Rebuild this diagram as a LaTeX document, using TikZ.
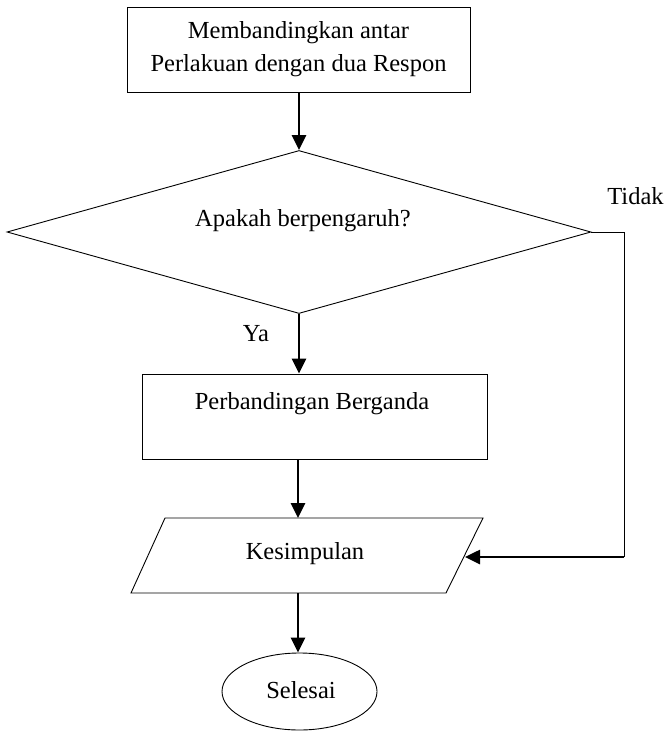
\documentclass[tikz,border=0pt]{standalone}
\usepackage{fontspec}
\setmainfont{Liberation Serif}
\usetikzlibrary{shapes.geometric,arrows.meta}
\begin{document}
\begin{tikzpicture}[x=1pt,y=-1pt,
  font=\fontsize{24.5}{33}\selectfont,
  thin line/.style={line width=0.9pt},
  boxnode/.style={draw,thin line,rectangle,inner sep=0pt,align=center},
  flow/.style={line width=2.6pt,-{Triangle[length=15pt,width=14pt]}},
  txt/.style={inner sep=0pt,align=center}]
\useasboundingbox (0,0) rectangle (670,731);
\node[boxnode,minimum width=343pt,minimum height=85pt] (top) at (298.5,49.5) {Membandingkan antar\\Perlakuan dengan dua Respon};
\node[draw,thin line,diamond,inner sep=0pt,minimum width=584pt,minimum height=163pt] (dec) at (299,232) {};
\node[txt] (dectext) at (303,221) {Apakah berpengaruh?};
\node[boxnode,minimum width=345pt,minimum height=85pt] (box2) at (314.5,416.5) {};
\node[txt] (box2text) at (312,404) {Perbandingan Berganda};
\coordinate (p1) at (165,518);
\coordinate (p2) at (483,518);
\coordinate (p3) at (446,593);
\coordinate (p4) at (131,593);
\draw[thin line] (p1) -- (p2) -- (p3) -- (p4) -- cycle;
\node[txt] (kes) at (305,554) {Kesimpulan};
\node[draw,thin line,ellipse,inner sep=0pt,minimum width=155pt,minimum height=77pt] (end) at (299.5,691.5) {};
\node[txt] (endtext) at (301,690) {Selesai};
\node[txt] (ya) at (256,334) {Ya};
\node[txt] (tidak) at (635.5,196) {Tidak};
\coordinate (ptop) at (298,518);
\coordinate (pbot) at (298,593);
\coordinate (c1) at (624,232);
\coordinate (c2) at (624,557);
\coordinate (pin) at (465,557);
\draw[flow] (top.south -| dec.north) -- (dec.north);
\draw[flow] (dec.south) -- (dec.south |- box2.north);
\draw[flow] (box2.south -| ptop) -- (ptop);
\draw[flow] (pbot) -- (end.north -| pbot);
\draw[thin line] (dec.east) -- (c1) -- (c2);
\draw[flow] (c2) -- (pin);
\end{tikzpicture}
\end{document}
